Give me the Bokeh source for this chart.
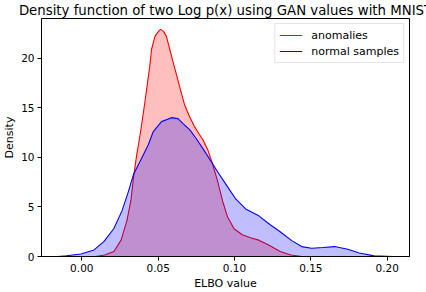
from bokeh.plotting import figure
from bokeh.models import Legend, LegendItem, FixedTicker, NumeralTickFormatter, Range1d, Title
from bokeh.embed import file_html
from bokeh.resources import INLINE

# anomalies (red) KDE curve
anom_x = [0.009, 0.015, 0.021, 0.0257, 0.0295, 0.0321, 0.0339, 0.036, 0.0382, 0.0405,
          0.0425, 0.0445, 0.0457, 0.0479, 0.0507, 0.0516, 0.0535, 0.0554, 0.0576, 0.0598,
          0.0619, 0.0641, 0.0674, 0.0706, 0.0738, 0.0770, 0.0792, 0.0824, 0.0857, 0.0889,
          0.0922, 0.0954, 0.0997, 0.1051, 0.1105, 0.1159, 0.1224, 0.1299, 0.137, 0.144]
anom_y = [0.0, 0.15, 0.5, 1.65, 3.6, 5.6, 8.0, 10.3, 12.3, 14.7,
          16.9, 19.2, 20.9, 22.2, 22.8, 22.9, 22.7, 22.2, 20.9, 19.6,
          18.4, 17.1, 15.25, 14.1, 13.1, 12.3, 11.8, 10.8, 9.3, 7.6,
          5.6, 4.0, 2.8, 2.2, 1.9, 1.65, 1.15, 0.5, 0.15, 0.0]

# normal samples (blue) KDE curve
norm_x = [-0.0158, -0.0100, -0.0006, 0.008, 0.0144, 0.0209, 0.0263, 0.0306, 0.0339, 0.0382,
          0.0436, 0.0468, 0.0522, 0.0587, 0.0630, 0.0663, 0.0706, 0.0749, 0.0792, 0.0846,
          0.09, 0.0943, 0.1008, 0.1073, 0.1159, 0.1234, 0.1299, 0.1375, 0.144, 0.1505,
          0.158, 0.1655, 0.1742, 0.1817, 0.1914, 0.2034]
norm_y = [0.0, 0.08, 0.26, 0.66, 1.5, 2.8, 4.6, 6.6, 8.3, 9.6,
          11.3, 12.6, 13.6, 14.0, 13.9, 13.4, 12.8, 11.9, 10.9, 9.6,
          8.3, 7.3, 5.8, 4.8, 4.1, 3.2, 2.5, 1.6, 1.0, 0.83,
          0.9, 1.0, 0.73, 0.36, 0.06, 0.0]

x_ticks = [0.0, 0.05, 0.10, 0.15, 0.20]
y_ticks = [0, 5, 10, 15, 20]
labels = ["anomalies", "normal samples"]
title_text = "Density function of two Log p(x) using GAN values with MNIST"

FONT = "DejaVu Sans"

p = figure(width=426, height=292, output_backend="svg", toolbar_location=None,
           x_range=Range1d(-0.0264, 0.2146), y_range=Range1d(0, 24.0),
           min_border_left=37, min_border_right=17, min_border_top=0, min_border_bottom=34)
p.styles = {"position": "absolute", "left": "0px", "top": "0px"}

p.title = Title(text=title_text, text_font=FONT, text_font_size="13.3px",
                text_font_style="normal", align="center", standoff=1, text_color="#000000")

p.xgrid.visible = False
p.ygrid.visible = False
p.outline_line_color = "#000000"
p.outline_line_alpha = 1.0
p.background_fill_color = "white"
p.border_fill_color = "white"

r1f = p.varea(x=anom_x, y1=0, y2=anom_y, fill_color="#ff0000", fill_alpha=0.25)
r1 = p.line(anom_x, anom_y, line_color="#ff0000", line_width=1.1)
r2f = p.varea(x=norm_x, y1=0, y2=norm_y, fill_color="#0000ff", fill_alpha=0.25)
r2 = p.line(norm_x, norm_y, line_color="#0000ff", line_width=1.1)

for ax in (p.xaxis, p.yaxis):
    ax.major_label_text_font = FONT
    ax.major_label_text_font_size = "10.5px"
    ax.major_label_text_color = "#000000"
    ax.axis_label_text_font = FONT
    ax.axis_label_text_font_size = "11px"
    ax.axis_label_text_font_style = "normal"
    ax.axis_label_text_color = "#000000"
    ax.major_tick_out = 4
    ax.major_tick_in = 0
    ax.minor_tick_out = 0
    ax.minor_tick_in = 0
    ax.major_label_standoff = 3
    ax.axis_label_standoff = 2
    ax.axis_line_color = "#000000"

p.xaxis.ticker = FixedTicker(ticks=x_ticks)
p.xaxis.formatter = NumeralTickFormatter(format="0.00")
p.yaxis.ticker = FixedTicker(ticks=y_ticks)
p.xaxis.axis_label = "ELBO value"
p.yaxis.axis_label = "Density"

legend = Legend(items=[LegendItem(label=labels[0], renderers=[r1]),
                       LegendItem(label=labels[1], renderers=[r2])],
                location="top_right", margin=5, padding=4, spacing=2,
                glyph_width=23, glyph_height=14, label_height=14, label_standoff=9,
                label_text_font=FONT, label_text_font_size="11px", label_text_color="#000000",
                border_line_color="#cccccc", border_line_width=1,
                background_fill_color="white", background_fill_alpha=0.8)
p.add_layout(legend, "center")

open("out.html", "w").write(file_html(p, INLINE))
